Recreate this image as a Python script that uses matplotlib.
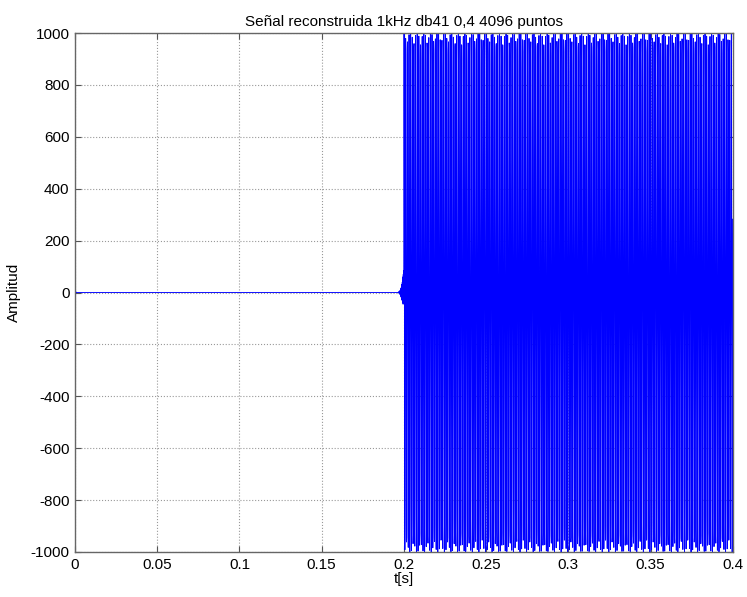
import numpy as np
import matplotlib
matplotlib.use("Agg")
import matplotlib.pyplot as plt

n_points = 4096
duration = 0.4            # s
tone_freq = 1000.0        # Hz (1kHz from title)
tone_amp = 1000.0
tone_start = 0.2          # s, signal onset
# small ringing at the very start (first samples)
start_transient = [-70, 35, -22, 12, -6, 3]
# pre-echo ringing just before the onset (last samples before 0.2 s)
pre_echo = [1, -1, 2, -2, 3, -3, 4, -4, 5, -6, 7, -8, 9, -10, 12, -14, 16, -18, 20, -22,
            25, -28, 32, -30, 40, -35, 50, -40, 60, -45, 70, -40, 85, -30]

xticks = [0, 0.05, 0.1, 0.15, 0.2, 0.25, 0.3, 0.35, 0.4]
xticklabels = ["0", "0.05", "0.1", "0.15", "0.2", "0.25", "0.3", "0.35", "0.4"]
yticks = [-1000, -800, -600, -400, -200, 0, 200, 400, 600, 800, 1000]

# ---- build signal from the parameters ----
t = np.arange(n_points) / n_points * duration
y = np.zeros(n_points)
on = t >= tone_start
y[on] = tone_amp * np.sin(2 * np.pi * tone_freq * (t[on] - tone_start) + 0.9)
y[:len(start_transient)] = start_transient
i0 = np.argmax(on)
y[i0 - len(pre_echo):i0] = pre_echo

plt.rcParams['font.family'] = ['Liberation Sans', 'DejaVu Sans']
plt.rcParams['axes.unicode_minus'] = False
fig = plt.figure(figsize=(7.47, 5.97), dpi=100)
ax = fig.add_axes([0.1004, 0.0754, 0.8806, 0.8693])
ax.plot(t, y, color='#0000ff', lw=0.65)
ax.set_xlim(0, 0.4)
ax.set_ylim(-1000, 1000)
ax.set_xticks(xticks)
ax.set_xticklabels(xticklabels)
ax.set_yticks(yticks)
ax.grid(True, linestyle=':', color='#999999', linewidth=0.8)
ax.tick_params(direction='in', top=True, right=True, labelsize=11, length=4, color='#555555', pad=4)
for s in ax.spines.values():
    s.set_color('#666666')
    s.set_linewidth(1.0)
ax.set_title("Señal reconstruida 1kHz db41 0,4 4096 puntos", fontsize=11, pad=5)
ax.set_xlabel("t[s]", fontsize=11, labelpad=0)
ax.set_ylabel("Amplitud", fontsize=11, labelpad=7)
fig.savefig("out.png", dpi=100)
